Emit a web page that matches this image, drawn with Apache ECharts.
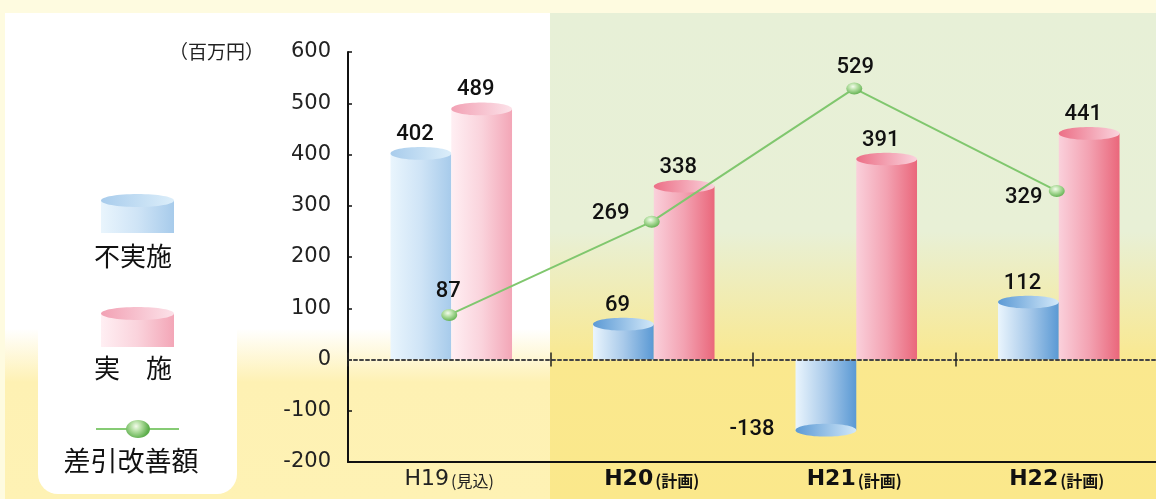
<!DOCTYPE html>
<html>
<head>
<meta charset="utf-8">
<script src="https://cdn.jsdelivr.net/npm/echarts@6/dist/echarts.min.js"></script>
<style>
  html, body { margin: 0; padding: 0; background: #FEFBE0; }
  #chart { width: 1156px; height: 499px; }
</style>
</head>
<body>
<div id="chart"></div>
<script>
// Fiscal years and their status notes
const categories = ['H19', 'H20', 'H21', 'H22'];
const categoryNotes = ['見込', '計画', '計画', '計画'];

// 不実施 / 実施 (百万円)
const notImplemented = [402, 69, -138, 112];
const implemented = [489, 338, 391, 441];
// 差引改善額 (百万円)
const improvement = [87, 269, 529, 329];

// Value axis range
const yMin = -200;
const yMax = 600;
const yStep = 100;

const LG = echarts.graphic.LinearGradient;
const RG = echarts.graphic.RadialGradient;
const hGrad = (a, b) => new LG(0, 0, 1, 0, [{ offset: 0, color: a }, { offset: 1, color: b }]);
const hGrad3 = (a, m, b) => new LG(0, 0, 1, 0, [{ offset: 0, color: a }, { offset: 0.5, color: m }, { offset: 1, color: b }]);

// Cylinder colour sets: the first year (見込) is paler than the planned years
const bluePalettes = {
  estimate: { body: ['#E9F5FD', '#CFE4F6', '#A7CBEB'], cap: ['#A8CCEC', '#DCEEFA'] },
  plan:     { body: ['#EAF5FD', '#A9CAEA', '#5A99D4'], cap: ['#5C9AD5', '#D2E8F9'] }
};
const pinkPalettes = {
  estimate: { body: ['#FFEFF3', '#FAD3DC', '#F3A6B7'], cap: ['#F2A1B4', '#FCE2E9'] },
  plan:     { body: ['#FAD0DB', '#F3A2B2', '#EA677B'], cap: ['#EC6F86', '#FAD3DD'] }
};

const valueFont = { fontFamily: 'Roboto', fontWeight: 500, fontSize: 22, fill: '#111' };

// Draws one cylinder per category; side -1 = left of centre, +1 = right
function cylinder(side, palettes) {
  return function (params, api) {
    const i = api.value(0);
    const v = api.value(1);
    const base = api.coord([i, 0]);
    const end = api.coord([i, v]);
    const band = api.size([1, 0])[0];
    const w = band * 0.3;
    const nudge = band * 0.01;
    const x0 = (side < 0 ? base[0] - w : base[0]) + nudge;
    const pal = i === 0 ? palettes.estimate : palettes.plan;
    const ry = w * 0.105;
    const yTop = Math.min(base[1], end[1]);
    const h = Math.abs(end[1] - base[1]);
    const label = v >= 0
      ? { x: x0 + w / 2 - 6, y: end[1] - 19, align: 'center' }
      : { x: x0 - 21, y: end[1] - 1, align: 'right' };
    return {
      type: 'group',
      children: [
        { type: 'rect', shape: { x: x0, y: yTop, width: w, height: h },
          style: { fill: hGrad3(pal.body[0], pal.body[1], pal.body[2]) } },
        { type: 'ellipse', shape: { cx: x0 + w / 2, cy: end[1], rx: w / 2, ry: ry },
          style: { fill: hGrad(pal.cap[0], pal.cap[1]) } },
        { type: 'text', x: label.x, y: label.y,
          style: Object.assign({ text: String(v), align: label.align, verticalAlign: 'middle' }, valueFont) }
      ]
    };
  };
}

// Label placement of the 差引改善額 values around each marker
const lineLabelOffsets = [[-1, -23], [-41, -8], [1, -21], [-33, 7]];

const ballFill = new RG(0.42, 0.35, 0.7, [
  { offset: 0, color: '#F4FCEC' },
  { offset: 0.45, color: '#AEDC9C' },
  { offset: 1, color: '#5DAE4C' }
]);

function axisLabelText(value, idx) {
  const note = categoryNotes[idx];
  return idx === 0 ? '{r|' + value + '}{rs|(' + note + ')}' : '{b|' + value + '}{bs|(' + note + ')}';
}

// Legend pieces (icon over caption)
function legendCylinder(cx, capY, bodyBottom, pal) {
  return [
    { type: 'rect', z: 6, shape: { x: cx - 36.5, y: capY, width: 73, height: bodyBottom - capY },
      style: { fill: hGrad3(pal.body[0], pal.body[1], pal.body[2]) } },
    { type: 'ellipse', z: 7, shape: { cx: cx, cy: capY, rx: 36.5, ry: 6.5 },
      style: { fill: hGrad(pal.cap[0], pal.cap[1]) } }
  ];
}
const legendFont = { fontFamily: 'Noto Sans CJK JP', fontSize: 26, fill: '#111', align: 'center', verticalAlign: 'middle' };

const chart = echarts.init(document.getElementById('chart'), null, { renderer: 'canvas' });

const option = {
  animation: false,
  backgroundColor: '#FEFBE0',
  textStyle: { fontFamily: 'DejaVu Sans' },
  graphic: {
    elements: [
      { type: 'rect', z: -10, silent: true, shape: { x: 5, y: 13, width: 545, height: 486 },
        style: { fill: new LG(0, 0, 0, 1, [
          { offset: 0, color: '#FFFFFF' },
          { offset: 0.65, color: '#FFFFFF' },
          { offset: 0.76, color: '#FEF1B3' },
          { offset: 1, color: '#FEF2B4' }]) } },
      { type: 'rect', z: -10, silent: true, shape: { x: 550, y: 13, width: 606, height: 486 },
        style: { fill: new LG(0, 0, 0, 1, [
          { offset: 0, color: '#E7F0D7' },
          { offset: 0.45, color: '#E8F0D6' },
          { offset: 0.72, color: '#FAE88E' },
          { offset: 1, color: '#FBE88B' }]) } },
      { type: 'rect', z: -5, silent: true, shape: { x: 38, y: 150, width: 199, height: 344, r: 20 },
        style: { fill: '#FFFFFF' } },
      ...legendCylinder(137.5, 200.5, 233, bluePalettes.estimate),
      { type: 'text', z: 6, x: 133, y: 256, style: Object.assign({ text: '不実施' }, legendFont) },
      ...legendCylinder(137.5, 313.5, 347, pinkPalettes.estimate),
      { type: 'text', z: 6, x: 133, y: 368, style: Object.assign({ text: '実　施' }, legendFont) },
      { type: 'line', z: 6, shape: { x1: 96, y1: 429, x2: 179, y2: 429 },
        style: { stroke: '#86CB74', lineWidth: 2 } },
      { type: 'ellipse', z: 7, shape: { cx: 138, cy: 429, rx: 12, ry: 9 }, style: { fill: ballFill } },
      { type: 'text', z: 6, x: 131, y: 461, style: Object.assign({}, legendFont, { text: '差引改善額', fontSize: 27 }) }
    ]
  },
  grid: { left: 348, top: 52, width: 810, height: 410, containLabel: false, outerBoundsMode: 'none' },
  xAxis: [
    {
      type: 'category', data: categories, position: 'bottom',
      axisLine: { onZero: false, lineStyle: { color: '#111', width: 2 } },
      axisTick: { show: false },
      axisLabel: {
        interval: 0, margin: 6, formatter: axisLabelText,
        rich: {
          r: { fontFamily: 'DejaVu Sans', fontSize: 22, color: '#222' },
          rs: { fontFamily: 'Noto Sans CJK JP', fontSize: 16, color: '#222', padding: [4, 0, 0, 2] },
          b: { fontFamily: 'DejaVu Sans', fontWeight: 'bold', fontSize: 22, color: '#111' },
          bs: { fontFamily: 'Noto Sans CJK JP', fontWeight: 'bold', fontSize: 16, color: '#111', padding: [4, 0, 0, 2] }
        }
      }
    },
    {
      type: 'category', data: categories, position: 'bottom', z: 10,
      axisLine: { onZero: true, onZeroAxisIndex: 0, lineStyle: { color: '#444', width: 2, type: [3, 3] } },
      axisTick: { show: true, inside: false, length: 7, interval: 0, lineStyle: { color: '#222', width: 1.5 } },
      axisLabel: { show: false }
    },
    {
      type: 'category', data: categories, position: 'bottom', z: 10,
      axisLine: { show: false, onZero: true, onZeroAxisIndex: 0 },
      axisTick: { show: true, inside: true, length: 7, interval: 0, lineStyle: { color: '#222', width: 1.5 } },
      axisLabel: { show: false }
    }
  ],
  yAxis: {
    type: 'value', min: yMin, max: yMax, interval: yStep,
    axisLine: { show: true, lineStyle: { color: '#111', width: 2 } },
    axisTick: { show: true, inside: true, length: 4, lineStyle: { color: '#111', width: 1.5 } },
    splitLine: { show: false },
    axisLabel: { margin: 17, fontSize: 21, color: '#222', fontFamily: 'DejaVu Sans' },
    name: '（百万円）', nameLocation: 'end', nameGap: 0, nameMoveOverlap: false,
    nameTextStyle: { align: 'right', verticalAlign: 'middle', padding: [0, 84, 0, 0],
      fontSize: 19, fontFamily: 'Noto Sans CJK JP', color: '#222' }
  },
  series: [
    {
      type: 'custom', name: '不実施', xAxisIndex: 0, z: 3, clip: false,
      renderItem: cylinder(-1, bluePalettes),
      encode: { x: 0, y: 1 },
      data: notImplemented.map((v, i) => [i, v])
    },
    {
      type: 'custom', name: '実施', xAxisIndex: 0, z: 3, clip: false,
      renderItem: cylinder(1, pinkPalettes),
      encode: { x: 0, y: 1 },
      data: implemented.map((v, i) => [i, v])
    },
    {
      type: 'line', name: '差引改善額', xAxisIndex: 0, z: 5,
      symbol: 'circle', symbolSize: [16, 12], showAllSymbol: true,
      lineStyle: { color: '#80C76E', width: 2 },
      itemStyle: { color: ballFill, borderWidth: 0 },
      label: { show: true, position: 'inside', fontFamily: 'Roboto', fontWeight: 500, fontSize: 22, color: '#111' },
      data: improvement.map((v, i) => ({ value: v, label: { offset: lineLabelOffsets[i] } }))
    }
  ]
};

chart.setOption(option);
</script>
</body>
</html>
